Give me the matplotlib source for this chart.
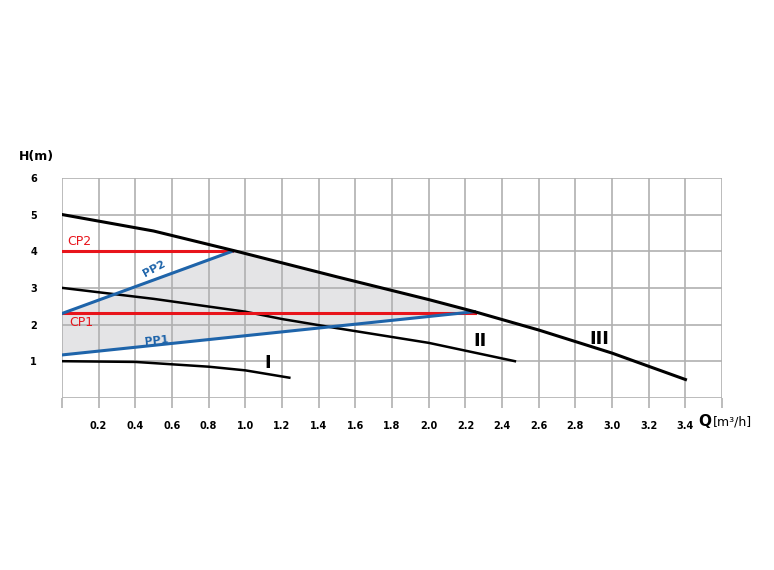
import numpy as np
import matplotlib
matplotlib.use("Agg")
import matplotlib.pyplot as plt

q3 = [0, 0.5, 0.95, 1.5, 2.0, 2.25, 2.6, 3.0, 3.4]
h3 = [5.0, 4.55, 4.0, 3.3, 2.68, 2.35, 1.85, 1.22, 0.5]
q2 = [0, 0.5, 1.0, 1.2, 1.5, 2.0, 2.47]
h2 = [3.0, 2.7, 2.35, 2.15, 1.9, 1.5, 1.0]
q1 = [0, 0.4, 0.8, 1.0, 1.24]
h1 = [1.0, 0.98, 0.85, 0.75, 0.55]
cp1 = ([0, 2.25], [2.32, 2.32])
cp2 = ([0, 0.93], [4.0, 4.0])
pp1 = ([0, 2.25], [1.17, 2.35])
pp2 = ([0, 0.93], [2.3, 4.0])
xticks = [0.2, 0.4, 0.6, 0.8, 1.0, 1.2, 1.4, 1.6, 1.8, 2.0, 2.2, 2.4, 2.6, 2.8, 3.0, 3.2, 3.4]
yticks = [1, 2, 3, 4, 5, 6]

fig = plt.figure(figsize=(7.74, 5.70), dpi=100)
ax = fig.add_axes([0.080, 0.302, 0.853, 0.386])
ax.set_xlim(0, 3.6)
ax.set_ylim(0, 6)

# shaded region
qs = np.linspace(pp2[0][1], pp1[0][1], 50)
hs = np.interp(qs, q3, h3)
px = [pp1[0][0], pp1[0][1]] + list(qs[::-1]) + [pp2[0][0]]
py = [pp1[1][0], pp1[1][1]] + list(hs[::-1]) + [pp2[1][0]]
ax.fill(px, py, color="#e4e4e6", zorder=1)

ax.set_xticks(np.arange(0, 3.61, 0.2), minor=False)
ax.set_yticks(range(0, 7))
ax.grid(True, color="#b0b0b0", lw=1.2, zorder=0)
for s in ax.spines.values():
    s.set_visible(False)
ax.set_xticklabels([""] + [f"{v:.1f}" for v in xticks] + [""])
ax.set_yticklabels([""] + [str(v) for v in yticks])
ax.tick_params(axis="x", length=7, color="#b0b0b0", width=1.2, pad=10, labelsize=7)
ax.tick_params(axis="y", length=0, pad=18, labelsize=7)
for t in ax.get_xticklabels() + ax.get_yticklabels():
    t.set_fontweight("bold")

ax.plot(q1, h1, color="black", lw=1.8, zorder=3)
ax.plot(q2, h2, color="black", lw=1.8, zorder=3)
ax.plot(q3, h3, color="black", lw=2.2, zorder=4)
ax.plot(*cp1, color="#e8141b", lw=2.2, zorder=3)
ax.plot(*cp2, color="#e8141b", lw=2.2, zorder=3)
ax.plot(*pp1, color="#1e64aa", lw=2.2, zorder=3)
ax.plot(*pp2, color="#1e64aa", lw=2.2, zorder=3)

ax.text(0.03, 4.08, "CP2", color="#e8141b", fontsize=9, va="bottom")
ax.text(0.04, 2.22, "CP1", color="#e8141b", fontsize=9, va="top")
ax.text(0.43, 3.3, "PP2", color="#1e64aa", fontsize=8, fontweight="bold", rotation=28)
ax.text(0.45, 1.45, "PP1", color="#1e64aa", fontsize=8, fontweight="bold", rotation=6)
ax.text(1.12, 0.95, "I", fontsize=13, fontweight="bold", ha="center", va="center")
ax.text(2.28, 1.55, "II", fontsize=13, fontweight="bold", ha="center", va="center")
ax.text(2.93, 1.6, "III", fontsize=13, fontweight="bold", ha="center", va="center")

fig.text(0.025, 0.72, "H(m)", fontsize=9, fontweight="bold")
fig.text(0.902, 0.253, "Q", fontsize=11, fontweight="bold")
fig.text(0.921, 0.253, "[m³/h]", fontsize=9)

fig.savefig("out.png", dpi=100)
